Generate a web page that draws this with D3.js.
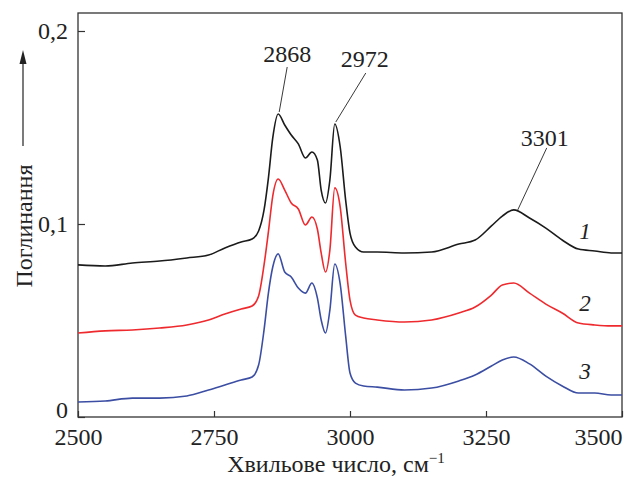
<!DOCTYPE html>
<html>
<head>
<meta charset="utf-8">
<script src="https://cdn.jsdelivr.net/npm/d3@7"></script>
<style>
  body { margin: 0; background: #fff; }
  svg { display: block; }
  svg text { font-family: "Liberation Serif", "DejaVu Serif", "Noto Serif", serif; }
</style>
</head>
<body>
<div id="chart"></div>
<script>
// wavenumbers, cm-1
var wavenumbers = [2500, 2550, 2600, 2650, 2700, 2740, 2770, 2800, 2820, 2832, 2842, 2850, 2858, 2868,
  2880, 2892, 2905, 2918, 2930, 2940, 2947, 2955, 2963, 2972, 2982, 2992, 3000, 3010, 3025, 3050,
  3100, 3150, 3200, 3230, 3260, 3280, 3301, 3330, 3360, 3390, 3420, 3450, 3480, 3500];

var curve1 = [0.0788, 0.0782, 0.0798, 0.0808, 0.0824, 0.0839, 0.0876, 0.0907, 0.0922, 0.0964, 0.1073, 0.1238, 0.1446, 0.1570,
  0.1513, 0.1461, 0.1415, 0.1342, 0.1373, 0.1332, 0.1176, 0.1109, 0.1228, 0.1518, 0.1399, 0.1124, 0.0953, 0.0881, 0.0855, 0.0855,
  0.0850, 0.0855, 0.0896, 0.0917, 0.0990, 0.1041, 0.1073, 0.1031, 0.0979, 0.0917, 0.0870, 0.0860, 0.0850, 0.0850];

var curve2 = [0.0435, 0.0446, 0.0451, 0.0461, 0.0477, 0.0503, 0.0534, 0.0560, 0.0575, 0.0627, 0.0788, 0.0959, 0.1145, 0.1233,
  0.1176, 0.1109, 0.1078, 0.0995, 0.1036, 0.0974, 0.0850, 0.0751, 0.0865, 0.1187, 0.1088, 0.0798, 0.0606, 0.0528, 0.0513, 0.0503,
  0.0492, 0.0503, 0.0539, 0.0570, 0.0632, 0.0684, 0.0694, 0.0642, 0.0585, 0.0539, 0.0487, 0.0477, 0.0472, 0.0472];

var curve3 = [0.0078, 0.0083, 0.0098, 0.0098, 0.0109, 0.0140, 0.0166, 0.0192, 0.0207, 0.0269, 0.0451, 0.0642, 0.0777, 0.0845,
  0.0751, 0.0725, 0.0668, 0.0642, 0.0694, 0.0617, 0.0503, 0.0435, 0.0554, 0.0793, 0.0689, 0.0420, 0.0228, 0.0176, 0.0161, 0.0155,
  0.0140, 0.0150, 0.0187, 0.0218, 0.0264, 0.0295, 0.0311, 0.0275, 0.0212, 0.0161, 0.0124, 0.0124, 0.0114, 0.0114];

var curveNames = ["1", "2", "3"];
var peaks = [2868, 2972, 3301];
var xTicks = [2500, 2750, 3000, 3250, 3500];
var yTicks = [0, 0.1, 0.2];

var W = 624, H = 477;
var margin = {top: 13, right: 2, bottom: 60, left: 78};
var fs = 24;

var svg = d3.select("#chart").append("svg")
    .attr("width", W)
    .attr("height", H);

var x = d3.scaleLinear().domain([2500, 3500]).range([margin.left, W - margin.right]);
var y = d3.scaleLinear().domain([0, 0.2]).range([417, 31]);

var series = [
  {name: curveNames[0], values: curve1, color: "#1b1b1b", labelY: 0.0890},
  {name: curveNames[1], values: curve2, color: "#ee2a2e", labelY: 0.0518},
  {name: curveNames[2], values: curve3, color: "#3b4ea3", labelY: 0.0166}
];

// frame
svg.append("rect")
    .attr("x", margin.left)
    .attr("y", margin.top)
    .attr("width", W - margin.right - margin.left)
    .attr("height", 417 - margin.top)
    .attr("fill", "none")
    .attr("stroke", "#333")
    .attr("stroke-width", 1.3);

// x axis
var gx = svg.append("g")
    .attr("transform", "translate(0,417)")
    .call(d3.axisBottom(x).tickValues(xTicks).tickSizeInner(-6).tickSizeOuter(0).tickPadding(11)
      .tickFormat(d3.format("d")));
gx.attr("font-family", null).attr("font-size", null);
gx.select(".domain").remove();
gx.selectAll("line").attr("stroke", "#333").attr("stroke-width", 1.2);
gx.selectAll("text")
    .attr("font-size", fs)
    .attr("fill", "#222");
gx.selectAll(".tick").filter(function(d) { return d === 3500; }).select("text")
    .attr("text-anchor", "end")
    .attr("x", 0);

// y axis
var gy = svg.append("g")
    .attr("transform", "translate(" + margin.left + ",0)")
    .call(d3.axisLeft(y).tickValues(yTicks).tickSizeInner(-7).tickSizeOuter(0).tickPadding(10)
      .tickFormat(function(d) { return d === 0 ? "0" : String(d).replace(".", ","); }));
gy.attr("font-family", null).attr("font-size", null);
gy.select(".domain").remove();
gy.selectAll("line").attr("stroke", "#333").attr("stroke-width", 1.2);
gy.selectAll("text")
    .attr("font-size", fs)
    .attr("fill", "#222");
gy.selectAll(".tick").filter(function(d) { return d === 0; }).select("text")
    .attr("dy", "0.0em");

// spectra
var line = d3.line()
    .x(function(d) { return x(d[0]); })
    .y(function(d) { return y(d[1]); })
    .curve(d3.curveMonotoneX);

series.forEach(function(s) {
  var pts = wavenumbers.map(function(w, i) { return [w, s.values[i]]; });
  svg.append("path")
      .datum(pts)
      .attr("fill", "none")
      .attr("stroke", s.color)
      .attr("stroke-width", 1.6)
      .attr("d", line);

  svg.append("text")
      .attr("x", x(3432))
      .attr("y", y(s.labelY) - 6)
      .attr("text-anchor", "middle")
      .attr("font-size", 23)
      .attr("font-style", "italic")
      .attr("fill", "#222")
      .text(s.name);
});

// peak annotations (offsets in px from the peak on curve 1)
var annot = [
  {lx0: 1, ly0: -2, lx1: 9, ly1: -47, tx: 9, ty: -52},
  {lx0: 1, ly0: -2, lx1: 31, ly1: -51, tx: 30, ty: -57},
  {lx0: 4, ly0: 0, lx1: 33, ly1: -62, tx: 31, ty: -64}
];

peaks.forEach(function(p, i) {
  var px = x(p), py = y(curve1[wavenumbers.indexOf(p)]);
  var a = annot[i];
  svg.append("line")
      .attr("x1", px + a.lx0).attr("y1", py + a.ly0)
      .attr("x2", px + a.lx1).attr("y2", py + a.ly1)
      .attr("stroke", "#222")
      .attr("stroke-width", 0.9);
  svg.append("text")
      .attr("x", px + a.tx)
      .attr("y", py + a.ty)
      .attr("text-anchor", "middle")
      .attr("font-size", fs)
      .attr("fill", "#222")
      .text(p);
});

// y title with arrow
svg.append("text")
    .attr("transform", "translate(32,226) rotate(-90)")
    .attr("text-anchor", "middle")
    .attr("font-size", fs)
    .attr("fill", "#222")
    .text("Поглинання");

svg.append("line")
    .attr("x1", 23).attr("y1", 146)
    .attr("x2", 23).attr("y2", 62)
    .attr("stroke", "#222")
    .attr("stroke-width", 1.2);
svg.append("path")
    .attr("d", "M23,50 L19.5,64 L26.5,64 Z")
    .attr("fill", "#222");

// x title
var xt = svg.append("text")
    .attr("x", 336)
    .attr("y", 472)
    .attr("text-anchor", "middle")
    .attr("font-size", fs)
    .attr("fill", "#222");
xt.append("tspan").text("Хвильове число, см");
xt.append("tspan")
    .attr("font-size", 15)
    .attr("dy", -9)
    .text("\u22121");
</script>
</body>
</html>
